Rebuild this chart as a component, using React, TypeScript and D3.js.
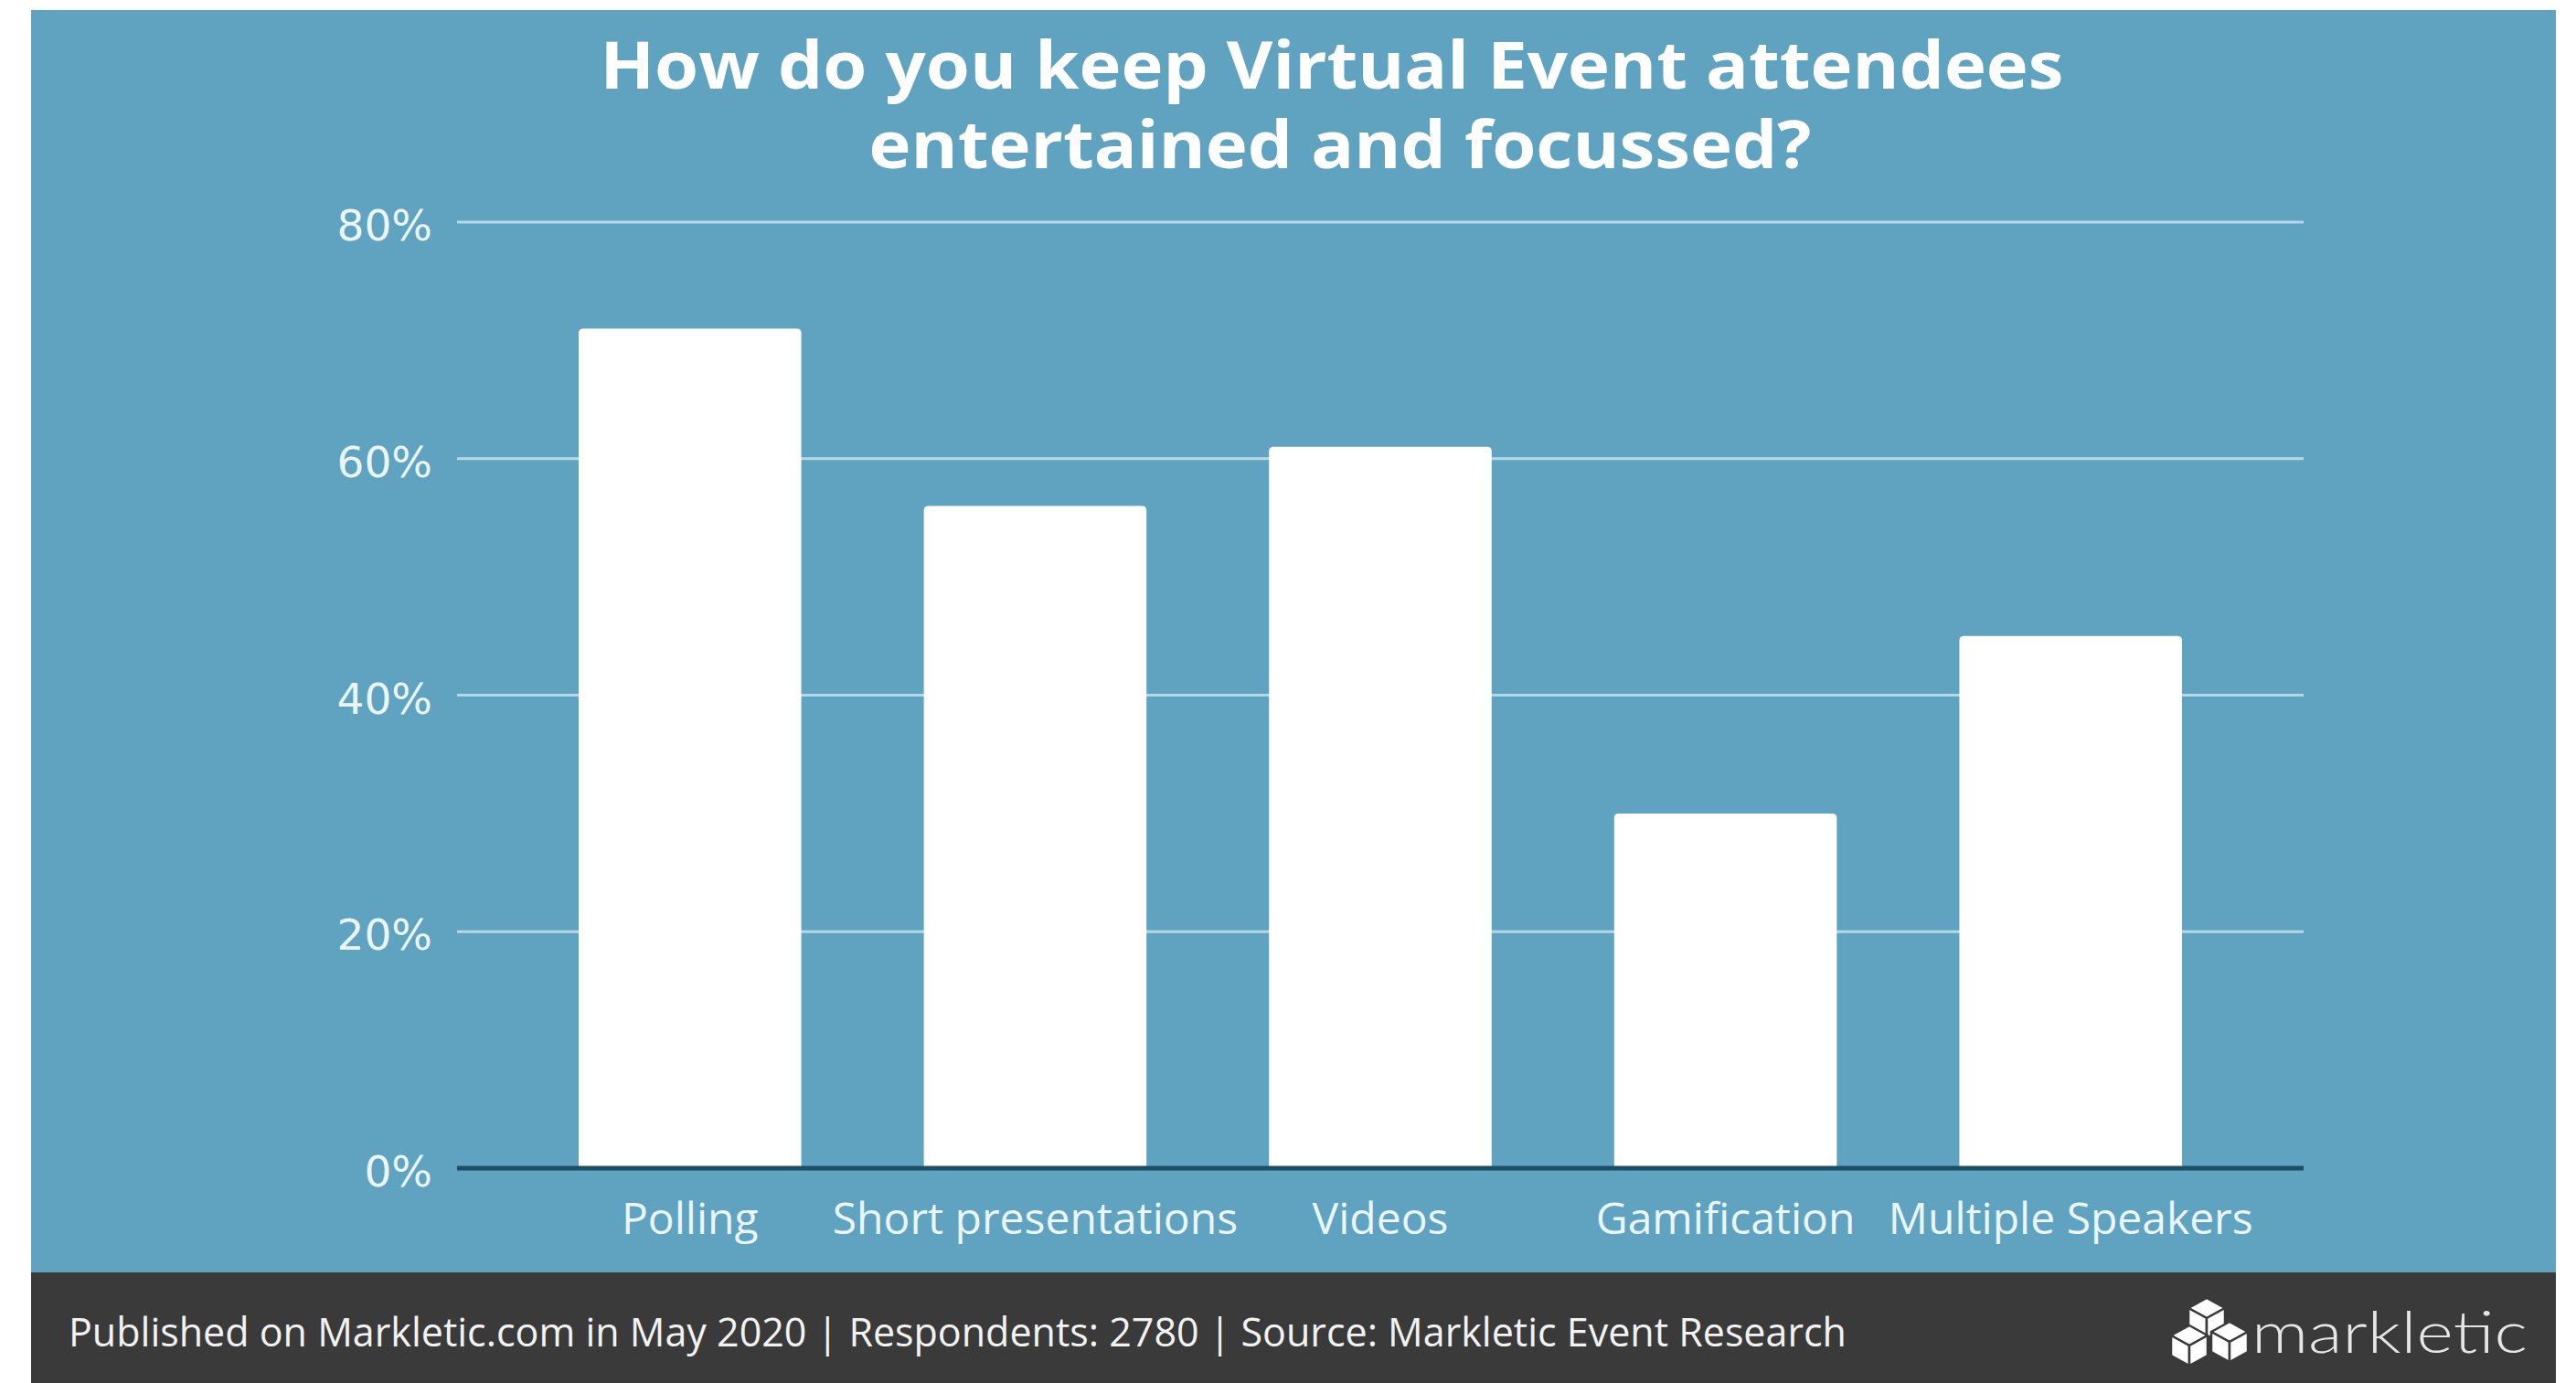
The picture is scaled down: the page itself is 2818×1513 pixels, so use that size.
import React from "react";
import * as d3 from "d3";

const categories = ["Polling", "Short presentations", "Videos", "Gamification", "Multiple Speakers"];
const values = [71, 56, 61, 30, 45];
const yTicks = [0, 20, 40, 60, 80];
const titleLines = ["How do you keep Virtual Event attendees", "entertained and focussed?"];
const footerText = "Published on Markletic.com in May 2020 | Respondents: 2780 | Source: Markletic Event Research";
const brand = "markletic";

const W = 2818;
const H = 1513;
const BG = "#5fa3c1";
const FOOT = "#3a3a3a";
const FONT = "'Open Sans', 'DejaVu Sans', sans-serif";

function cubePaths(cx: number, cy: number, w: number, h: number) {
  const t = `M${cx},${cy - h / 2} L${cx + w / 2},${cy - h / 4} L${cx},${cy} L${cx - w / 2},${cy - h / 4} Z`;
  const l = `M${cx - w / 2},${cy - h / 4} L${cx},${cy} L${cx},${cy + h / 2} L${cx - w / 2},${cy + h / 4} Z`;
  const r = `M${cx + w / 2},${cy - h / 4} L${cx},${cy} L${cx},${cy + h / 2} L${cx + w / 2},${cy + h / 4} Z`;
  return [t, l, r];
}

export default function App() {
  const x = d3.scaleBand<string>().domain(categories).range([566, 2454]).paddingInner(0.355).paddingOuter(0.1775);
  const y = d3.scaleLinear().domain([0, 80]).range([1278, 243]);
  const gridX0 = 500;
  const gridX1 = 2520;

  const cubes = [
    { cx: 2414, cy: 1442 },
    { cx: 2395, cy: 1472 },
    { cx: 2439, cy: 1468 },
  ];
  const titleWidths = [1601, 1031];
  const titleCenters = [1457, 1466];

  return (
    <svg width={W} height={H} style={{ position: "absolute", left: 0, top: 0, display: "block" }}>
      <rect x={0} y={0} width={W} height={H} fill="#ffffff" />
      <rect x={34} y={11} width={2762} height={1381} fill={BG} />
      <rect x={34} y={1392} width={2762} height={H - 1392} fill={FOOT} />

      {titleLines.map((t, i) => (
        <text
          key={i}
          x={titleCenters[i]}
          y={97 + i * 87}
          textAnchor="middle"
          fill="#ffffff"
          fontFamily="'Open Sans', sans-serif"
          fontWeight={700}
          fontSize={72}
          textLength={titleWidths[i]}
          lengthAdjust="spacingAndGlyphs"
        >
          {t}
        </text>
      ))}

      {yTicks.map((v) =>
        v === 0 ? null : (
          <line key={"g" + v} x1={gridX0} x2={gridX1} y1={y(v)} y2={y(v)} stroke="#b3d9e7" strokeWidth={3} />
        )
      )}
      {yTicks.map((v) => (
        <text
          key={"t" + v}
          x={473}
          y={y(v) + 20}
          textAnchor="end"
          fill="#eaf6fb"
          fontFamily="'DejaVu Sans', sans-serif"
          fontSize={47}
        >
          {v}%
        </text>
      ))}

      {categories.map((c, i) => {
        const x0 = x(c)!;
        const bw = x.bandwidth();
        const yt = y(values[i]);
        const yb = y(0);
        const r = 5;
        const d = `M${x0},${yb} L${x0},${yt + r} Q${x0},${yt} ${x0 + r},${yt} L${x0 + bw - r},${yt} Q${x0 + bw},${yt} ${x0 + bw},${yt + r} L${x0 + bw},${yb} Z`;
        return <path key={c} d={d} fill="#ffffff" />;
      })}

      <line x1={gridX0} x2={gridX1} y1={y(0)} y2={y(0)} stroke="#1f4d63" strokeWidth={5} />

      {categories.map((c) => (
        <text
          key={"x" + c}
          x={x(c)! + x.bandwidth() / 2}
          y={1350}
          textAnchor="middle"
          fill="#eaf6fb"
          fontFamily={FONT}
          fontSize={48}
        >
          {c}
        </text>
      ))}

      <text x={75} y={1473} fill="#f2f2f2" fontFamily={FONT} fontSize={43}>
        {footerText}
      </text>

      <g>
        {cubes.map((cb, i) =>
          cubePaths(cb.cx, cb.cy, 40, 44).map((p, j) => (
            <path key={i + "-" + j} d={p} fill="#ffffff" stroke={FOOT} strokeWidth={2.5} strokeLinejoin="round" />
          ))
        )}
      </g>
      <text
        x={2463}
        y={1480}
        fill="#e6e6e6"
        fontFamily="Lato, 'Open Sans', sans-serif"
        fontWeight={300}
        fontSize={64}
        textLength={302}
        lengthAdjust="spacingAndGlyphs"
      >
        {brand}
      </text>
    </svg>
  );
}
